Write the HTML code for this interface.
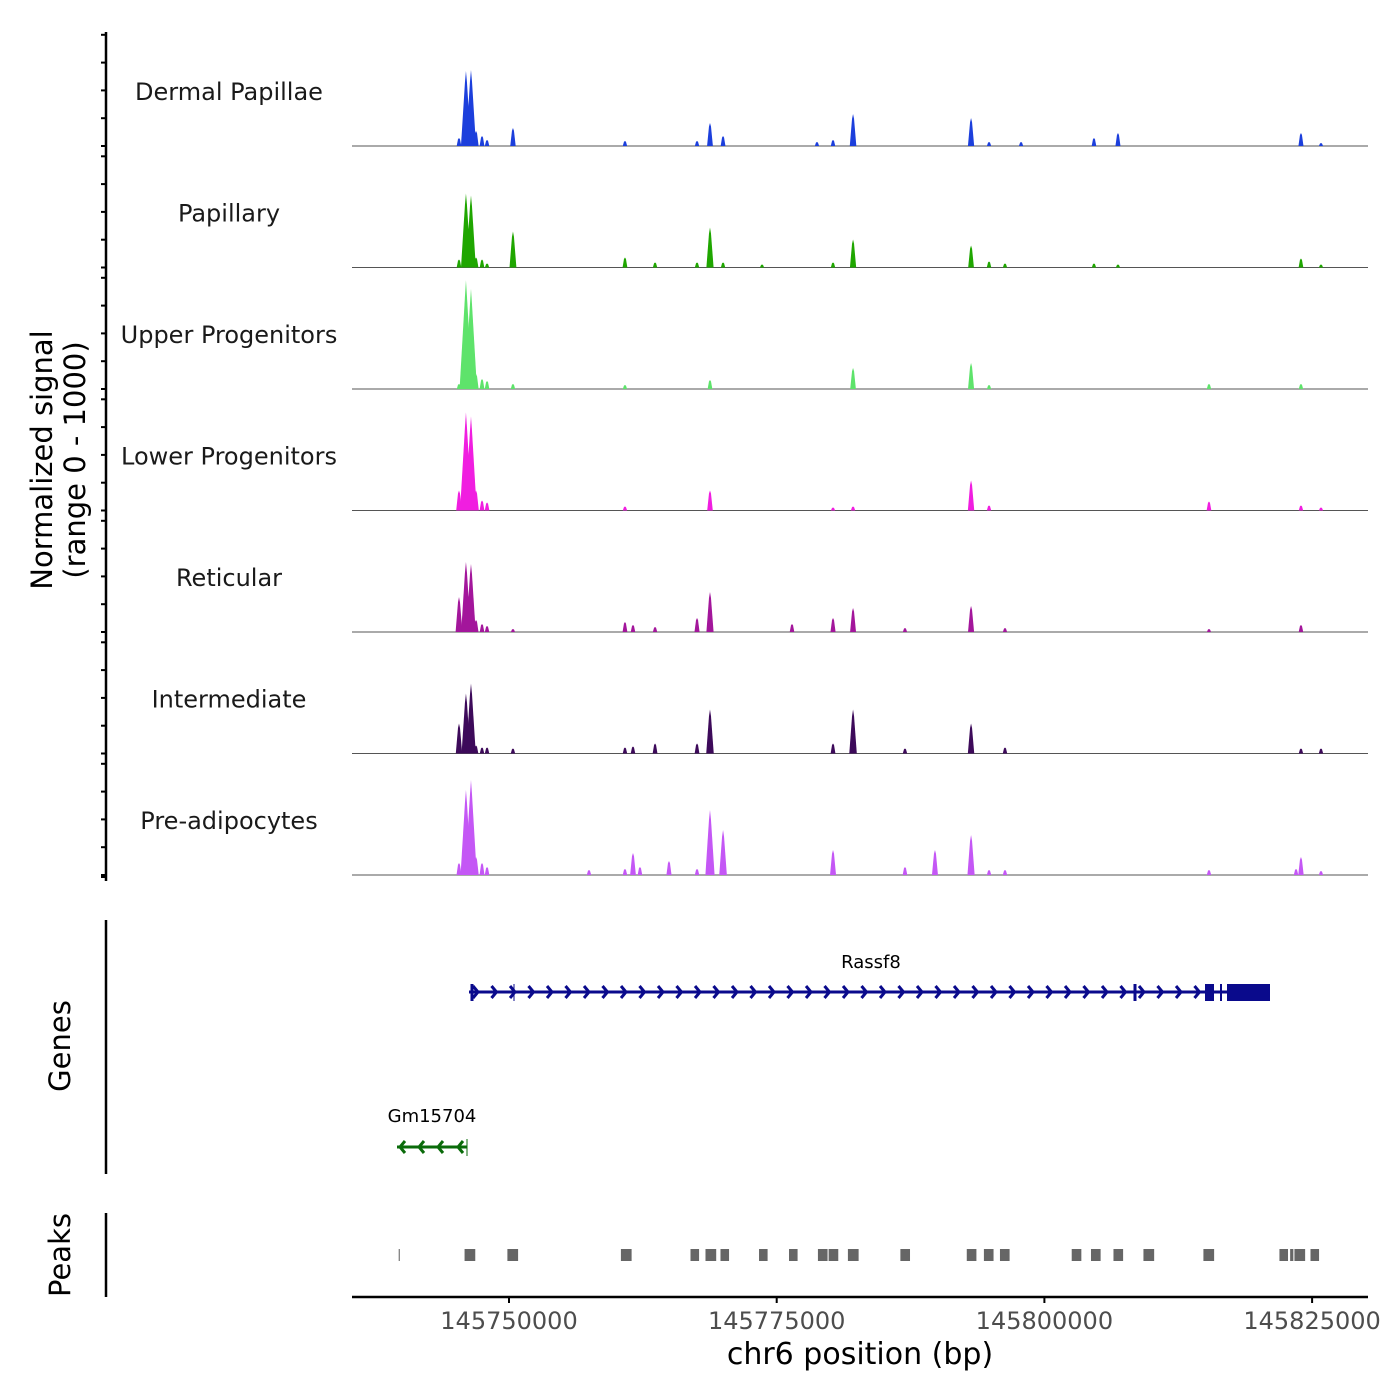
<!DOCTYPE html>
<html><head><meta charset="utf-8"><style>
html,body{margin:0;padding:0;background:#fff}
svg{display:block;font-family:"DejaVu Sans","Liberation Sans",sans-serif}
</style></head><body>
<svg id="chart" width="1400" height="1400" viewBox="0 0 1400 1400" xmlns="http://www.w3.org/2000/svg">
<g id="tracks"></g>
<g id="leftaxis"></g>
<text transform="translate(52,460) rotate(-90)" text-anchor="middle" font-size="29" fill="#000">Normalized signal</text>
<text transform="translate(85,460) rotate(-90)" text-anchor="middle" font-size="29" fill="#000">(range 0 - 1000)</text>
<g id="genes"></g>
<line x1="106" y1="920" x2="106" y2="1174" stroke="#000" stroke-width="2.5"/>
<text transform="translate(70,1046) rotate(-90)" text-anchor="middle" font-size="29">Genes</text>
<g id="peaks"></g>
<line x1="106" y1="1213" x2="106" y2="1297" stroke="#000" stroke-width="2.5"/>
<text transform="translate(70,1255) rotate(-90)" text-anchor="middle" font-size="29">Peaks</text>
<g id="xaxis"></g>
<text x="860" y="1364" text-anchor="middle" font-size="30">chr6 position (bp)</text>
</svg>
<script>
const trackNames = ["Dermal Papillae","Papillary","Upper Progenitors","Lower Progenitors","Reticular","Intermediate","Pre-adipocytes"];
const trackColors = ["#1c3fdc","#1fa600","#5ee36b","#f01ee0","#a3169b","#3d0a5a","#c457f5"];
const peakPosKb = [145745.33,145745.98,145746.45,145746.92,145747.48,145747.95,145750.37,145757.47,145760.83,145761.58,145762.23,145763.64,145764.94,145767.56,145768.77,145769.99,145773.63,145776.43,145778.76,145780.26,145782.13,145786.98,145789.78,145793.15,145794.83,145796.32,145797.82,145804.63,145806.87,145815.37,145823.50,145823.96,145825.83];
const sigDermal = [8,75,76,15,10,6,18,0,5,0,0,0,0,5,23,10,0,0,4,6,32,0,0,28,4,0,4,8,13,0,0,13,3];
const sigPapillary = [8,74,72,10,8,4,36,0,10,0,0,5,0,5,40,5,3,0,0,5,28,0,0,22,6,4,0,4,3,0,0,9,3];
const sigUpper = [5,109,100,15,10,8,5,0,4,0,0,0,0,0,9,0,0,0,0,0,21,0,0,26,4,0,0,0,0,5,0,5,0];
const sigLower = [20,98,94,20,10,8,0,0,4,0,0,0,0,0,20,0,0,0,0,3,4,0,0,30,5,0,0,0,0,9,0,5,3];
const sigReticular = [35,70,68,12,8,6,3,0,10,7,0,5,0,14,40,0,0,8,0,14,24,4,0,26,0,4,0,0,0,3,0,7,0];
const sigIntermediate = [30,60,70,8,6,6,5,0,6,7,0,10,0,10,44,0,0,0,0,10,44,5,0,30,0,6,0,0,0,0,0,5,5];
const sigPreadipo = [12,85,95,18,12,8,0,5,6,22,8,0,14,6,65,45,0,0,0,25,0,8,25,40,5,5,0,0,0,5,6,18,4];
const signals = [sigDermal,sigPapillary,sigUpper,sigLower,sigReticular,sigIntermediate,sigPreadipo];
const xTicksKb = [145750,145775,145800,145825];
const xTickLabels = ["145750000","145775000","145800000","145825000"];
const peakStartKb = [145739.70,145745.85,145749.85,145760.45,145766.95,145768.35,145769.75,145773.35,145776.15,145778.85,145779.85,145781.65,145786.55,145792.75,145794.35,145795.85,145802.55,145804.35,145806.45,145809.25,145814.85,145821.95,145822.95,145823.35,145824.85];
const peakEndKb = [145739.80,145746.85,145750.85,145761.45,145767.75,145769.35,145770.55,145774.15,145776.95,145779.75,145780.75,145782.65,145787.45,145793.65,145795.25,145796.75,145803.45,145805.25,145807.35,145810.25,145815.85,145822.75,145823.25,145824.35,145825.65];

const NS="http://www.w3.org/2000/svg";
function mk(tag,attrs,parent){const e=document.createElementNS(NS,tag);for(const k in attrs)e.setAttribute(k,attrs[k]);parent.appendChild(e);return e;}
const X0=352,X1=1368;
function xs(kb){return 509+(kb-145750)*10.708;}
function ys(v){return v*1.0;}
const base0=146, trackH=121.5;

const tg=document.getElementById('tracks');
signals.forEach((sig,t)=>{
  const base=base0+t*trackH;
  const g=mk('g',{},tg);
  
  
  const lab=mk('text',{x:229,y:base-46,'text-anchor':'middle','font-size':24,fill:'#1a1a1a'},g);
  lab.textContent=trackNames[t];
  
  
  const bl=mk('line',{x1:X0,y1:base,x2:X1,y2:base,stroke:'#555','stroke-width':1},g);
  
  
  sig.forEach((v,i)=>{
    if(v<=0)return;
    const x=xs(peakPosKb[i]),h=ys(v),w=2+h*0.04;
    const p=mk('polygon',{points:`${x-w},${base} ${x-1},${base-h*0.85} ${x},${base-h} ${x+1},${base-h*0.85} ${x+w},${base}`,fill:trackColors[t]},g);
    
    
  });
});
const la=document.getElementById('leftaxis');
mk('line',{x1:106,y1:32,x2:106,y2:881,stroke:'#000','stroke-width':2.5},la);
for(let t=0;t<7;t++){const base=base0+t*trackH;
  for(let k=0;k<5;k++){const y=base-k*27.8;mk('line',{x1:101,y1:y,x2:106,y2:y,stroke:'#000','stroke-width':2},la);}
}
mk('line',{x1:101,y1:877,x2:106,y2:877,stroke:'#000','stroke-width':2},la);
const gg=document.getElementById('genes');
const blue='#0a0a8c', green='#0a6b0a';
const r=mk('g',{},gg);


mk('line',{x1:469,y1:992,x2:1270,y2:992,stroke:blue,'stroke-width':3},r);
for(let x=478;x<1200;x+=18.5){mk('polyline',{points:`${x-5},986 ${x},992 ${x-5},998`,fill:'none',stroke:blue,'stroke-width':3},r);}
mk('line',{x1:472,y1:984,x2:472,y2:1001,stroke:blue,'stroke-width':3},r);
mk('line',{x1:514,y1:984,x2:514,y2:1001,stroke:blue,'stroke-width':1},r);
mk('line',{x1:1135,y1:984,x2:1135,y2:1001,stroke:blue,'stroke-width':3},r);
mk('rect',{x:1205,y:984,width:9,height:17,fill:blue},r);
mk('line',{x1:1221,y1:984,x2:1221,y2:1001,stroke:blue,'stroke-width':2},r);
mk('rect',{x:1227,y:984,width:43,height:17,fill:blue},r);
const rl=mk('text',{x:871,y:968,'text-anchor':'middle','font-size':18},r);rl.textContent='Rassf8';
const gm=mk('g',{},gg);


mk('line',{x1:397,y1:1147,x2:467,y2:1147,stroke:green,'stroke-width':3},gm);
[400,419,438,458].forEach(x=>mk('polyline',{points:`${x+5},1141 ${x},1147 ${x+5},1153`,fill:'none',stroke:green,'stroke-width':3},gm));
mk('line',{x1:467,y1:1139,x2:467,y2:1156,stroke:green,'stroke-width':1},gm);
const gl=mk('text',{x:432,y:1122,'text-anchor':'middle','font-size':18},gm);gl.textContent='Gm15704';
const pg=document.getElementById('peaks');
peakStartKb.forEach((s,i)=>{
  const x=xs(s),w=Math.max(1,xs(peakEndKb[i])-x);
  const rc=mk('rect',{x:x,y:1249,width:w,height:12,fill:'#666'},pg);
  
  
});
const xa=document.getElementById('xaxis');
mk('line',{x1:X0,y1:1297,x2:X1,y2:1297,stroke:'#000','stroke-width':2.5},xa);
xTicksKb.forEach((kb,i)=>{const x=xs(kb);
  mk('line',{x1:x,y1:1297,x2:x,y2:1303,stroke:'#000','stroke-width':2},xa);
  const t=mk('text',{x:x,y:1329,'text-anchor':'middle','font-size':24,fill:'#4d4d4d'},xa);
  t.textContent=xTickLabels[i];
  
  
});
</script>
</body></html>
